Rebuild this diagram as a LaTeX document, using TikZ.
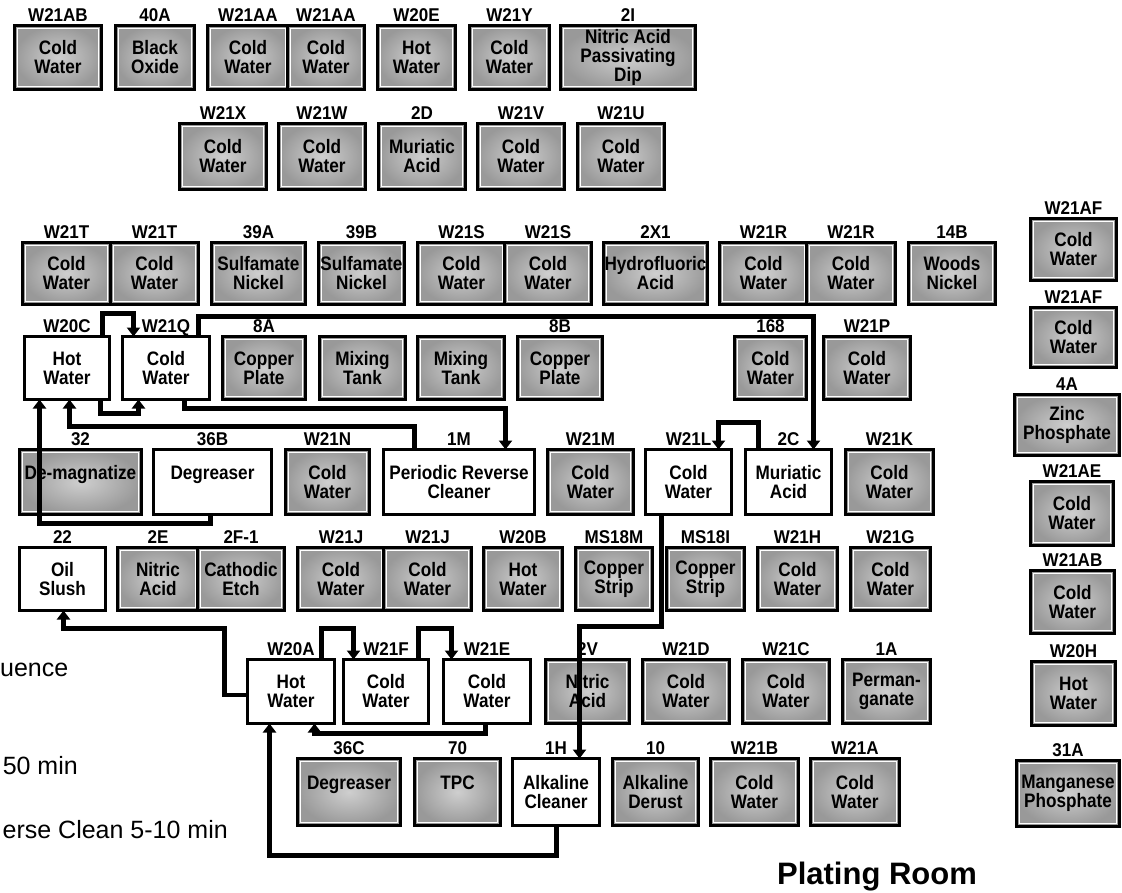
\documentclass[tikz,border=0pt]{standalone}
\usepackage{fontspec}
\setmainfont{Liberation Sans}
\newfontfamily\condfont{Liberation Sans}[FakeStretch=0.88]
\newfontfamily\labfont{Liberation Sans}[FakeStretch=0.92]
\usetikzlibrary{arrows.meta}
\tikzset{
  tankbase/.style={rectangle, outer sep=0pt, inner sep=1pt, align=center,
    font=\condfont\fontsize{19.5}{19}\selectfont\bfseries},
  shaded/.style={tankbase, draw=black, line width=3.5pt,
    inner color=gray!38, outer color=gray!80,
    path picture={\draw[white, line width=1.2pt]
      ([shift={(2.9pt,-2.9pt)}]path picture bounding box.north west) rectangle
      ([shift={(-2.9pt,2.9pt)}]path picture bounding box.south east);}},
  plain/.style={tankbase, draw=black, line width=3pt, fill=white},
  lab/.style={font=\labfont\fontsize{18.5}{18}\selectfont\bfseries, inner sep=0pt, anchor=base},
  legend/.style={font=\fontsize{25}{26}\selectfont, inner sep=0pt, anchor=base east},
  flow/.style={line width=4.5pt, -{Triangle[length=9pt,width=13pt]}},
}
\newcommand\tk[8]{%
  \node[#1, minimum width={(#5-#3-3)*1pt}, minimum height={(#6-#4-3)*1pt}] (#2) at ({(#3+#5)/2},{(#4+#6)/2}) {#8};%
  \node[lab] (#2l) at ({(#3+#5)/2},{#4-3}) {#7};%
}
\newcommand\tkn[7]{%
  \node[#1, minimum width={(#5-#3-3)*1pt}, minimum height={(#6-#4-3)*1pt}] (#2) at ({(#3+#5)/2},{(#4+#6)/2}) {#7};%
}
\begin{document}
\begin{tikzpicture}[x=1pt,y=-1pt]
\fill[white] (0,0) rectangle (1122,892);
\useasboundingbox (0,0) rectangle (1122,892);

% Row 1
\tk{shaded}{raa}{13}{24}{103}{91}{W21AB}{Cold\\Water}
\tk{shaded}{rab}{114}{24}{196}{91}{40A}{Black\\Oxide}
\tk{shaded}{rac}{206}{24}{290}{91}{W21AA}{Cold\\Water}
\tk{shaded}{rad}{286}{24}{366}{91}{W21AA}{Cold\\Water}
\tk{shaded}{rae}{376}{24}{457}{91}{W20E}{Hot\\Water}
\tk{shaded}{raf}{468}{24}{551}{91}{W21Y}{Cold\\Water}
\tk{shaded}{rag}{559}{24}{697}{91}{2I}{Nitric Acid\\Passivating\\Dip}

% Row 2
\tk{shaded}{rba}{178}{122}{268}{191}{W21X}{Cold\\Water}
\tk{shaded}{rbb}{277}{122}{367}{191}{W21W}{Cold\\Water}
\tk{shaded}{rbc}{377}{122}{467}{191}{2D}{Muriatic\\Acid}
\tk{shaded}{rbd}{476}{122}{566}{191}{W21V}{Cold\\Water}
\tk{shaded}{rbe}{576}{122}{666}{191}{W21U}{Cold\\Water}

% Row 3
\tk{shaded}{rca}{21}{241}{112}{306}{W21T}{Cold\\Water}
\tk{shaded}{rcb}{109}{241}{200}{306}{W21T}{Cold\\Water}
\tk{shaded}{rcc}{210}{241}{307}{306}{39A}{Sulfamate\\Nickel}
\tk{shaded}{rcd}{317}{241}{406}{306}{39B}{Sulfamate\\Nickel}
\tk{shaded}{rce}{416}{241}{507}{306}{W21S}{Cold\\Water}
\tk{shaded}{rcf}{503}{241}{593}{306}{W21S}{Cold\\Water}
\tk{shaded}{rcg}{603}{241}{708}{306}{2X1}{Hydrofluoric\\Acid}
\tk{shaded}{rch}{718}{241}{809}{306}{W21R}{Cold\\Water}
\tk{shaded}{rci}{805}{241}{897}{306}{W21R}{Cold\\Water}
\tk{shaded}{rcj}{907}{241}{997}{306}{14B}{Woods\\Nickel}

% Row 4
\tk{plain}{w20c}{23}{335}{111}{401}{W20C}{Hot\\Water}
\tk{plain}{w21q}{121}{335}{211}{401}{W21Q}{Cold\\Water}
\tk{shaded}{rda}{221}{335}{307}{401}{8A}{Copper\\Plate}
\tkn{shaded}{rdb}{318}{335}{407}{401}{Mixing\\Tank}
\tkn{shaded}{rdc}{416}{335}{506}{401}{Mixing\\Tank}
\tk{shaded}{rdd}{516}{335}{604}{401}{8B}{Copper\\Plate}
\tk{shaded}{rde}{733}{335}{808}{401}{168}{Cold\\Water}
\tk{shaded}{rdf}{822}{335}{912}{401}{W21P}{Cold\\Water}

% Row 5
\tk{shaded}{rea}{18}{448}{143}{516}{32}{De-magnatize\\\mbox{}}
\tk{plain}{b36}{152}{448}{273}{516}{36B}{Degreaser\\\mbox{}}
\tk{shaded}{reb}{284}{448}{371}{516}{W21N}{Cold\\Water}
\tk{plain}{m1}{382}{448}{536}{516}{1M}{Periodic Reverse\\Cleaner}
\tk{shaded}{rec}{546}{448}{635}{516}{W21M}{Cold\\Water}
\tk{plain}{l21}{644}{448}{733}{516}{W21L}{Cold\\Water}
\tk{plain}{c2}{744}{448}{833}{516}{2C}{Muriatic\\Acid}
\tk{shaded}{red}{844}{448}{935}{516}{W21K}{Cold\\Water}

% Row 6
\tk{plain}{s22}{18}{546}{107}{612}{22}{Oil\\Slush}
\tk{shaded}{rfa}{116}{546}{200}{612}{2E}{Nitric\\Acid}
\tk{shaded}{rfb}{196}{546}{286}{612}{2F-1}{Cathodic\\Etch}
\tk{shaded}{rfc}{296}{546}{386}{612}{W21J}{Cold\\Water}
\tk{shaded}{rfd}{382}{546}{473}{612}{W21J}{Cold\\Water}
\tk{shaded}{rfe}{482}{546}{564}{612}{W20B}{Hot\\Water}
\tk{shaded}{rff}{574}{546}{654}{612}{MS18M}{Copper\\Strip}
\tk{shaded}{rfg}{665}{546}{746}{612}{MS18I}{Copper\\Strip}
\tk{shaded}{rfh}{756}{546}{839}{612}{W21H}{Cold\\Water}
\tk{shaded}{rfi}{849}{546}{932}{612}{W21G}{Cold\\Water}

% Row 7
\tk{plain}{w20a}{246}{658}{336}{725}{W20A}{Hot\\Water}
\tk{plain}{w21f}{342}{658}{430}{725}{W21F}{Cold\\Water}
\tk{plain}{w21e}{442}{658}{532}{725}{W21E}{Cold\\Water}
\tk{shaded}{rga}{544}{658}{631}{725}{2V}{Nitric\\Acid}
\tk{shaded}{rgb}{641}{658}{731}{725}{W21D}{Cold\\Water}
\tk{shaded}{rgc}{741}{658}{831}{725}{W21C}{Cold\\Water}
\tk{shaded}{rgd}{841}{658}{932}{725}{1A}{Perman-\\ganate}

% Row 8
\tk{shaded}{rha}{296}{757}{402}{827}{36C}{Degreaser\\\mbox{}}
\tk{shaded}{rhb}{413}{757}{502}{827}{70}{TPC\\\mbox{}}
\tk{plain}{h1}{511}{757}{601}{827}{1H}{Alkaline\\Cleaner}
\tk{shaded}{rhc}{611}{757}{700}{827}{10}{Alkaline\\Derust}
\tk{shaded}{rhd}{709}{757}{800}{827}{W21B}{Cold\\Water}
\tk{shaded}{rhe}{809}{757}{901}{827}{W21A}{Cold\\Water}

% Right column
\tk{shaded}{rka}{1029}{217}{1118}{282}{W21AF}{Cold\\Water}
\tk{shaded}{rkb}{1029}{306}{1118}{369}{W21AF}{Cold\\Water}
\tk{shaded}{rkc}{1013}{393}{1121}{457}{4A}{Zinc\\Phosphate}
\tk{shaded}{rkd}{1029}{480}{1115}{547}{W21AE}{Cold\\Water}
\tk{shaded}{rke}{1029}{569}{1116}{635}{W21AB}{Cold\\Water}
\tk{shaded}{rkf}{1030}{660}{1117}{727}{W20H}{Hot\\Water}
\tk{shaded}{rkg}{1015}{759}{1121}{828}{31A}{Manganese\\Phosphate}

% Connectors
\draw[flow] ([xshift=-7pt]w20c.north east) -- ++(0,-23) -| ([xshift=11pt]w21q.north west);
\draw[flow] ([xshift=-9pt]w20c.south east) -- ++(0,14) -| ([xshift=16pt]w21q.south west);
\draw[flow] ([xshift=-25pt]w21q.south east) -- ++(0,9) -| ([xshift=-29pt]m1.north east);
\draw[flow] ([xshift=31pt]m1.north west) -- ++(0,-23) -| ([xshift=45pt]w20c.south west);
\draw[flow] ([xshift=-61pt]b36.south east) -- ++(0,9) -| ([xshift=15pt]w20c.south west);
\draw[flow] ([xshift=-11pt]w21q.north east) -- ++(0,-20) -| ([xshift=68pt]c2.north west);
\draw[flow] ([xshift=13pt]c2.north west) -- ++(0,-27) -| ([xshift=-13pt]l21.north east);
\draw[flow] ([xshift=16pt]l21.south west) -- ++(0,112) -| ([xshift=-20pt]h1.north east);
\draw[flow] ([xshift=44pt]h1.south west) -- ++(0,30) -| ([xshift=22pt]w20a.south west);
\draw[flow] ([xshift=-13pt]w20a.north east) -- ++(0,-31) -| ([xshift=10pt]w21f.north west);
\draw[flow] ([xshift=-10pt]w21f.north east) -- ++(0,-31) -| ([xshift=8pt]w21e.north west);
\draw[flow] ([xshift=-45pt]w21e.south east) -- ++(0,10) -| ([xshift=-20pt]w20a.south east);
\draw[flow] ([yshift=-3.5pt]w20a.west) -- ++(-23,0) |- ([xshift=44pt,yshift=-18pt]s22.south west) -- ([xshift=44pt]s22.south west);

% Texts
\node[legend, anchor=base west] (lg1) at (0,676) {uence};
\node[legend] (lg2) at (78,774) {50 min};
\node[legend] (lg3) at (228,838) {erse Clean 5-10 min};
\node[font=\fontsize{31}{32}\selectfont\bfseries, inner sep=0pt, anchor=base] (title) at (877,884) {Plating Room};
\end{tikzpicture}
\end{document}
